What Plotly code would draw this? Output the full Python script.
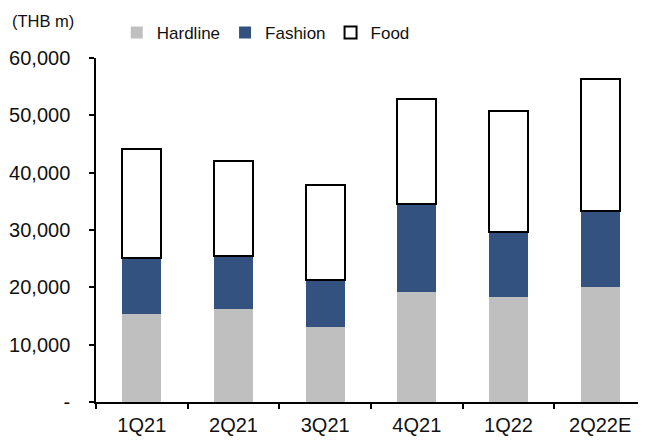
"""
Quarterly sales by segment (stacked bars)
"""

import plotly.graph_objects as go

# Data (THB m)
quarters = ['1Q21', '2Q21', '3Q21', '4Q21', '1Q22', '2Q22E']
hardline = [15300, 16300, 13100, 19100, 18300, 20000]
fashion = [9900, 9100, 8200, 15500, 11300, 13300]
food = [19000, 16600, 16600, 18300, 21200, 23100]

y_ticks = [0, 10000, 20000, 30000, 40000, 50000, 60000]
y_tick_text = ['-' if v == 0 else f'{v:,}' for v in y_ticks]

FONT = 'Liberation Sans, Arial, sans-serif'

fig = go.Figure()

fig.add_trace(go.Bar(
    x=quarters, y=hardline, name='Hardline',
    marker=dict(color='#BFBFBF', line=dict(width=0))
))
fig.add_trace(go.Bar(
    x=quarters, y=fashion, name='Fashion',
    marker=dict(color='#33527F', line=dict(width=0))
))
fig.add_trace(go.Bar(
    x=quarters, y=food, name='Food',
    marker=dict(color='white', line=dict(color='black', width=2))
))

# page body has an 8px margin, so the figure is sized to fit the window
fig.update_layout(
    barmode='stack',
    bargap=0.575,
    width=638,
    height=432,
    margin=dict(l=88, r=0, t=50, b=38, pad=0),
    paper_bgcolor='white',
    plot_bgcolor='white',
    font=dict(family=FONT, size=20, color='#111111'),
    showlegend=True,
    legend=dict(
        orientation='h',
        traceorder='normal',
        xref='container', yref='container',
        x=0.404, xanchor='center',
        y=0.942, yanchor='middle',
        font=dict(size=17),
        itemwidth=30,
        bgcolor='rgba(0,0,0,0)',
    ),
    annotations=[dict(
        text='(THB m)', xref='paper', yref='paper',
        x=-0.156, y=1.109, xanchor='left', yanchor='middle',
        showarrow=False, font=dict(size=16.5),
    )],
)

fig.update_xaxes(
    automargin=False,
    showline=True, linecolor='black', linewidth=1.5,
    ticks='outside', ticklen=5, tickcolor='black', tickwidth=1.5,
    tickson='boundaries', ticklabelstandoff=4,
    showgrid=False, zeroline=False,
)
fig.update_yaxes(
    automargin=False,
    range=[0, 60000],
    tickvals=y_ticks, ticktext=y_tick_text,
    showline=True, linecolor='black', linewidth=1.5,
    ticks='outside', ticklen=5, tickcolor='black', tickwidth=1.5,
    ticklabelstandoff=15,
    showgrid=False, zeroline=False,
)

fig.write_html("out.html")
